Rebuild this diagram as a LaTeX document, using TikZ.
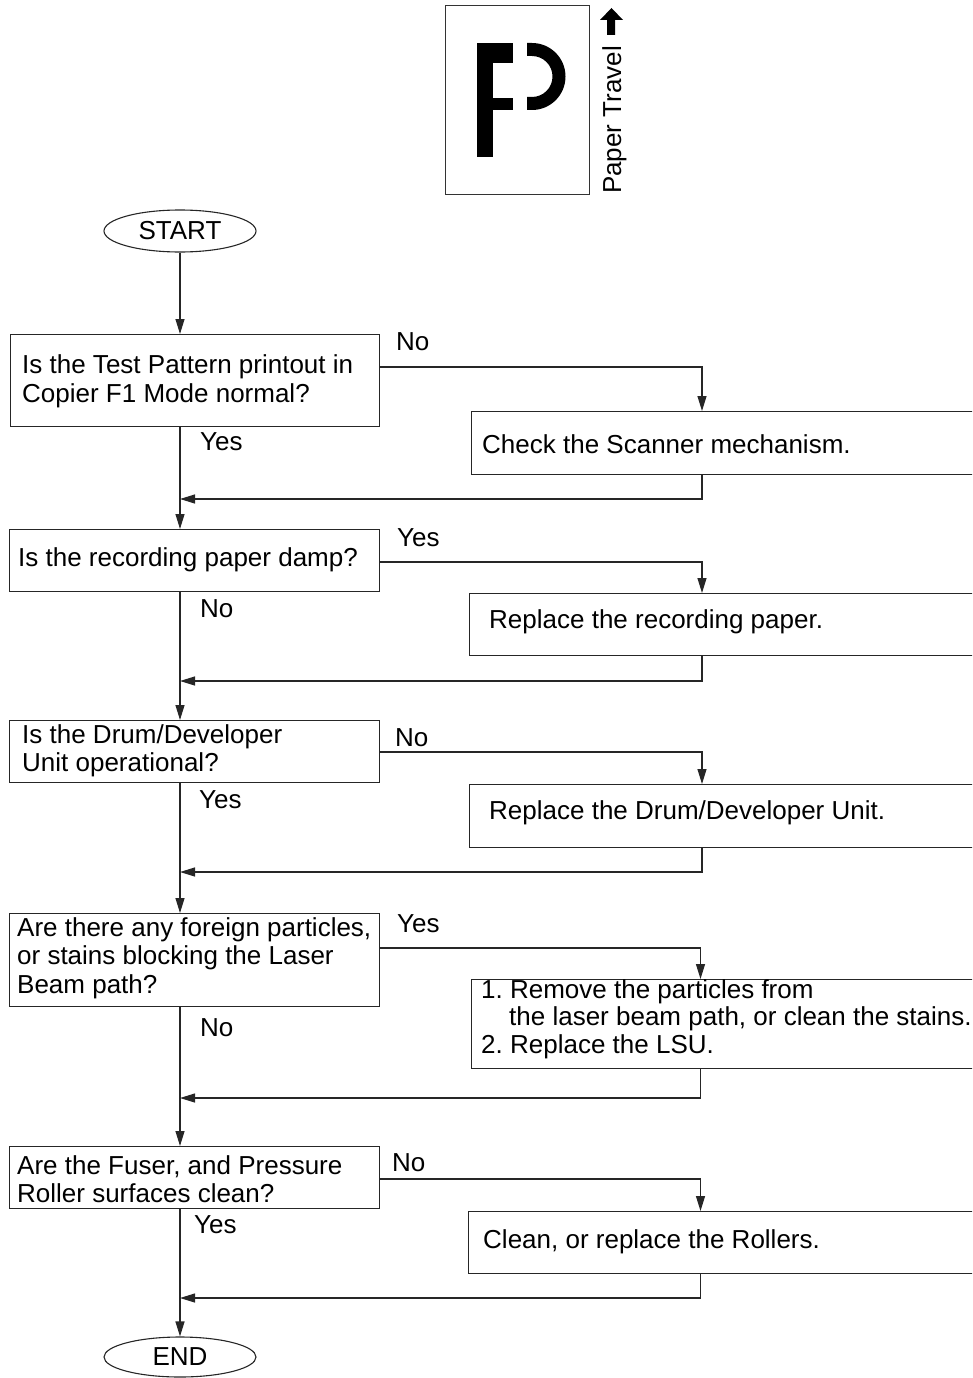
\documentclass[tikz,border=0pt]{standalone}
\usepackage{fontspec}
\setmainfont{Liberation Sans}
\usetikzlibrary{shapes.geometric,arrows.meta,calc}
\begin{document}
\frenchspacing
\begin{tikzpicture}[x=1pt,y=-1pt,
  every node/.style={font=\fontsize{26}{28.5}\selectfont\frenchspacing, text=black},
  qbox/.style={draw=black!85, line width=1.2pt, rectangle, inner sep=0pt, anchor=north west},
  term/.style={draw=black!85, line width=1.1pt, ellipse, minimum width=152pt, minimum height=42pt, inner sep=0pt},
  txt/.style={anchor=west, align=left, inner sep=0pt},
  lbl/.style={anchor=base west, inner sep=0pt},
  conn/.style={draw=black!85, line width=1.2pt},
  arr/.style={conn, -{Triangle[length=15pt,width=9pt]}},
  ink/.style={fill=black}
]
\clip (0,0) rectangle (972,1378);

% --- paper travel icon ---
\node[draw=black!80, line width=1pt, minimum width=144pt, minimum height=189pt, inner sep=0pt, anchor=north west] (sheet) at (445,5) {};
\fill[ink] (477,43) rectangle (493,157);
\fill[ink] (477,43) rectangle (513,63);
\fill[ink] (477,98) rectangle (513,110);
\fill[ink] (527,43) -- (532,43) arc[start angle=-90, end angle=90, radius=33.5] -- (527,110) -- (527,97) -- (532,97) arc[start angle=90, end angle=-90, radius=20.5] -- (527,56) -- cycle;
\fill[ink] (607,35) -- (607,20) -- (600,20) -- (611.5,8) -- (623,20) -- (615,20) -- (615,35) -- cycle;
\node[rotate=90, anchor=base west, inner sep=0pt] (pt) at (621,194) {Paper Travel};

% --- terminals ---
\node[term] (start) at (180,231) {START};
\node[term, minimum height=40pt] (end) at (180,1357) {END};

% --- question boxes ---
\node[qbox, minimum width=369pt, minimum height=92pt] (q1) at (10,334) {};
\node[qbox, minimum width=370pt, minimum height=62pt] (q2) at (9,529) {};
\node[qbox, minimum width=370pt, minimum height=62pt] (q3) at (9,720) {};
\node[qbox, minimum width=370pt, minimum height=93pt] (q4) at (9,913) {};
\node[qbox, minimum width=370pt, minimum height=62pt] (q5) at (9,1146) {};

\node[txt] (t1) at (22,381.5) {Is the Test Pattern printout in\\Copier F1 Mode normal?};
\node[txt] (t2) at (18,560) {Is the recording paper damp?};
\node[txt] (t3) at (22,751) {Is the Drum/Developer\\Unit operational?};
\node[txt] (t4) at (17,958) {Are there any foreign particles,\\or stains blocking the Laser\\Beam path?};
\node[txt] (t5) at (17,1179) {Are the Fuser, and Pressure\\Roller surfaces clean?};

% --- action boxes ---
\node[qbox, minimum width=520pt, minimum height=63pt] (a1) at (471,411) {};
\node[qbox, minimum width=520pt, minimum height=62pt] (a2) at (469,593) {};
\node[qbox, minimum width=520pt, minimum height=63pt] (a3) at (469,784) {};
\node[qbox, minimum width=520pt, minimum height=89pt] (a4) at (471,979) {};
\node[qbox, minimum width=520pt, minimum height=62pt] (a5) at (468,1211) {};

\node[txt] (ta1) at (482,444) {Check the Scanner mechanism.};
\node[txt] (ta2) at (489,622) {Replace the recording paper.};
\node[txt] (ta3) at (489,813) {Replace the Drum/Developer Unit.};
\node[txt, font=\fontsize{26}{27.5}\selectfont\frenchspacing] (ta4) at (481,1019) {1. Remove the particles from\\\hspace*{28pt}the laser beam path, or clean the stains.\\2. Replace the LSU.};
\node[txt] (ta5) at (483,1242) {Clean, or replace the Rollers.};

% --- labels ---
\node[lbl] (n1) at (396,350) {No};
\node[lbl] (y1) at (200,450) {Yes};
\node[lbl] (y2) at (397,546) {Yes};
\node[lbl] (n2) at (200,617) {No};
\node[lbl] (n3) at (395,746) {No};
\node[lbl] (y3) at (199,808) {Yes};
\node[lbl] (y4) at (397,932) {Yes};
\node[lbl] (n4) at (200,1036) {No};
\node[lbl] (n5) at (392,1171) {No};
\node[lbl] (y5) at (194,1233) {Yes};

% --- helper coordinates ---
\coordinate (m) at (180,0);
\coordinate (d) at (702,0);
\coordinate (e) at (700.5,0);
\coordinate (b1) at (0,367);
\coordinate (b2) at (0,562);
\coordinate (b3) at (0,752);
\coordinate (b4) at (0,948);
\coordinate (b5) at (0,1179);
\coordinate (r1) at (0,499);
\coordinate (r2) at (0,681);
\coordinate (r3) at (0,872);
\coordinate (r4) at (0,1098);
\coordinate (r5) at (0,1298);

% --- main line ---
\draw[arr] (start.south) -- (q1.north -| m);
\draw[arr] (q1.south -| m) -- (q2.north -| m);
\draw[arr] (q2.south -| m) -- (q3.north -| m);
\draw[arr] (q3.south -| m) -- (q4.north -| m);
\draw[arr] (q4.south -| m) -- (q5.north -| m);
\draw[arr] (q5.south -| m) -- (end.north);

% --- branches ---
\draw[arr] (q1.east |- b1) -| (a1.north -| d);
\draw[arr] (q2.east |- b2) -| (a2.north -| d);
\draw[arr] (q3.east |- b3) -| (a3.north -| d);
\draw[arr] (q4.east |- b4) -| (a4.north -| e);
\draw[arr] (q5.east |- b5) -| (a5.north -| e);

% --- returns ---
\draw[arr] (a1.south -| d) |- (m |- r1);
\draw[arr] (a2.south -| d) |- (m |- r2);
\draw[arr] (a3.south -| d) |- (m |- r3);
\draw[arr] (a4.south -| e) |- (m |- r4);
\draw[arr] (a5.south -| e) |- (m |- r5);
\end{tikzpicture}
\end{document}
